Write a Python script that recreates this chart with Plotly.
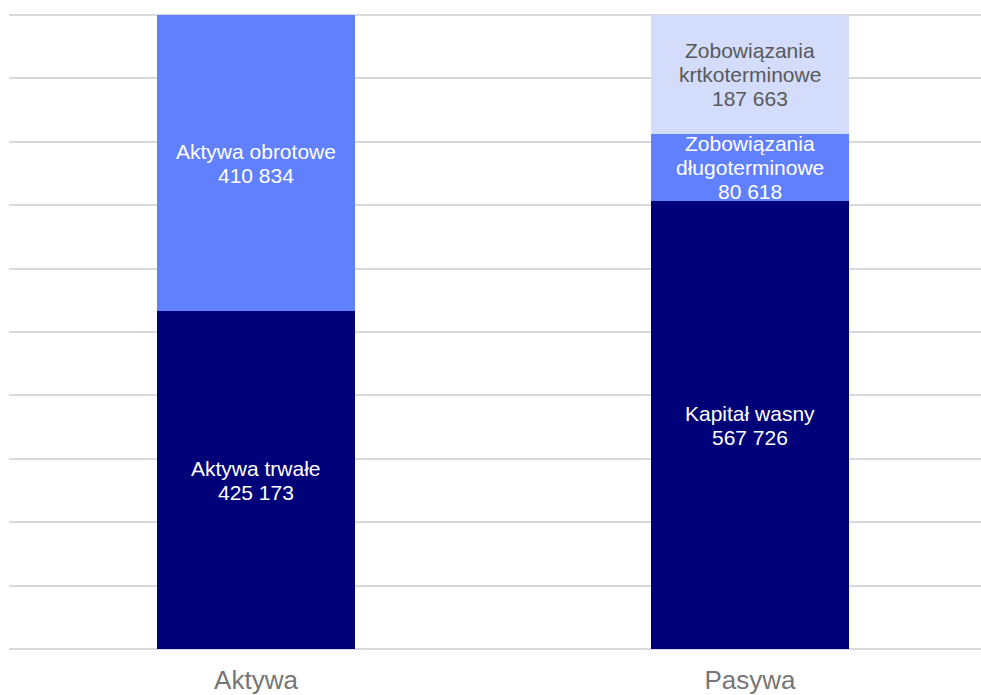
import plotly.graph_objects as go

# ---- data ----
categories = ["Aktywa", "Pasywa"]

# bar segment heights (same scale as the labels' total)
seg_category = ["Aktywa", "Aktywa", "Pasywa", "Pasywa", "Pasywa"]
seg_height = [445610, 390397, 590200, 89385, 156422]
seg_name = ["Aktywa trwałe", "Aktywa obrotowe", "Kapitał wasny",
            "Zobowiązania\ndługoterminowe", "Zobowiązania\nkrtkoterminowe"]
seg_value_label = [425173, 410834, 567726, 80618, 187663]
seg_color = ["#000078", "#6180fe", "#000078", "#6180fe", "#d3dcfb"]
seg_text_color = ["#ffffff", "#ffffff", "#ffffff", "#ffffff", "#595959"]

total = 836007
n_grid = 10

FONT = "Liberation Sans, Arial, sans-serif"
LINE_GAP = 24
GRID = "#d9d9d9"

def fmt(v):
    return f"{v:,}".replace(",", " ")

fig = go.Figure()

# stacked bars, one trace per segment
base = {c: 0 for c in categories}
annotations = []
for cat, h, name, lab, col, tcol in zip(seg_category, seg_height, seg_name,
                                        seg_value_label, seg_color, seg_text_color):
    fig.add_trace(go.Bar(
        x=[cat], y=[h], marker=dict(color=col, line=dict(width=0)),
        width=0.4, showlegend=False, hoverinfo="skip",
    ))
    center = base[cat] + h / 2
    base[cat] += h
    lines = name.split("\n") + [fmt(lab)]
    n = len(lines)
    for i, line in enumerate(lines):
        annotations.append(dict(
            x=categories.index(cat), y=center, xref="x", yref="y",
            text=line, showarrow=False, xanchor="center", yanchor="middle",
            yshift=((n - 1) / 2 - i) * LINE_GAP,
            font=dict(family=FONT, size=21, color=tcol),
        ))

fig.update_layout(
    barmode="stack",
    width=981, height=695,
    margin=dict(l=9, r=0, t=15, b=44),
    paper_bgcolor="white", plot_bgcolor="white",
    annotations=annotations,
    font=dict(family=FONT),
    shapes=[dict(type="line", xref="paper", yref="paper", x0=0, x1=1, y0=1, y1=1,
                 line=dict(color=GRID, width=2), layer="below")],
)

fig.update_xaxes(
    type="category",
    range=[-0.5, -0.5 + 972 / 494],
    showgrid=False, zeroline=False, showline=False,
    ticks="", tickfont=dict(family=FONT, size=26, color="#767676"),
    ticklabelstandoff=13,
)
fig.update_yaxes(
    range=[0, total],
    tickmode="array",
    tickvals=[total * i / n_grid for i in range(n_grid + 1)],
    showticklabels=False,
    showgrid=True, gridcolor=GRID, gridwidth=2,
    zeroline=True, zerolinecolor=GRID, zerolinewidth=2,
    showline=False,
)

fig.write_html("out.html", config={"displayModeBar": False},
               post_script="document.body.style.margin='0';")
